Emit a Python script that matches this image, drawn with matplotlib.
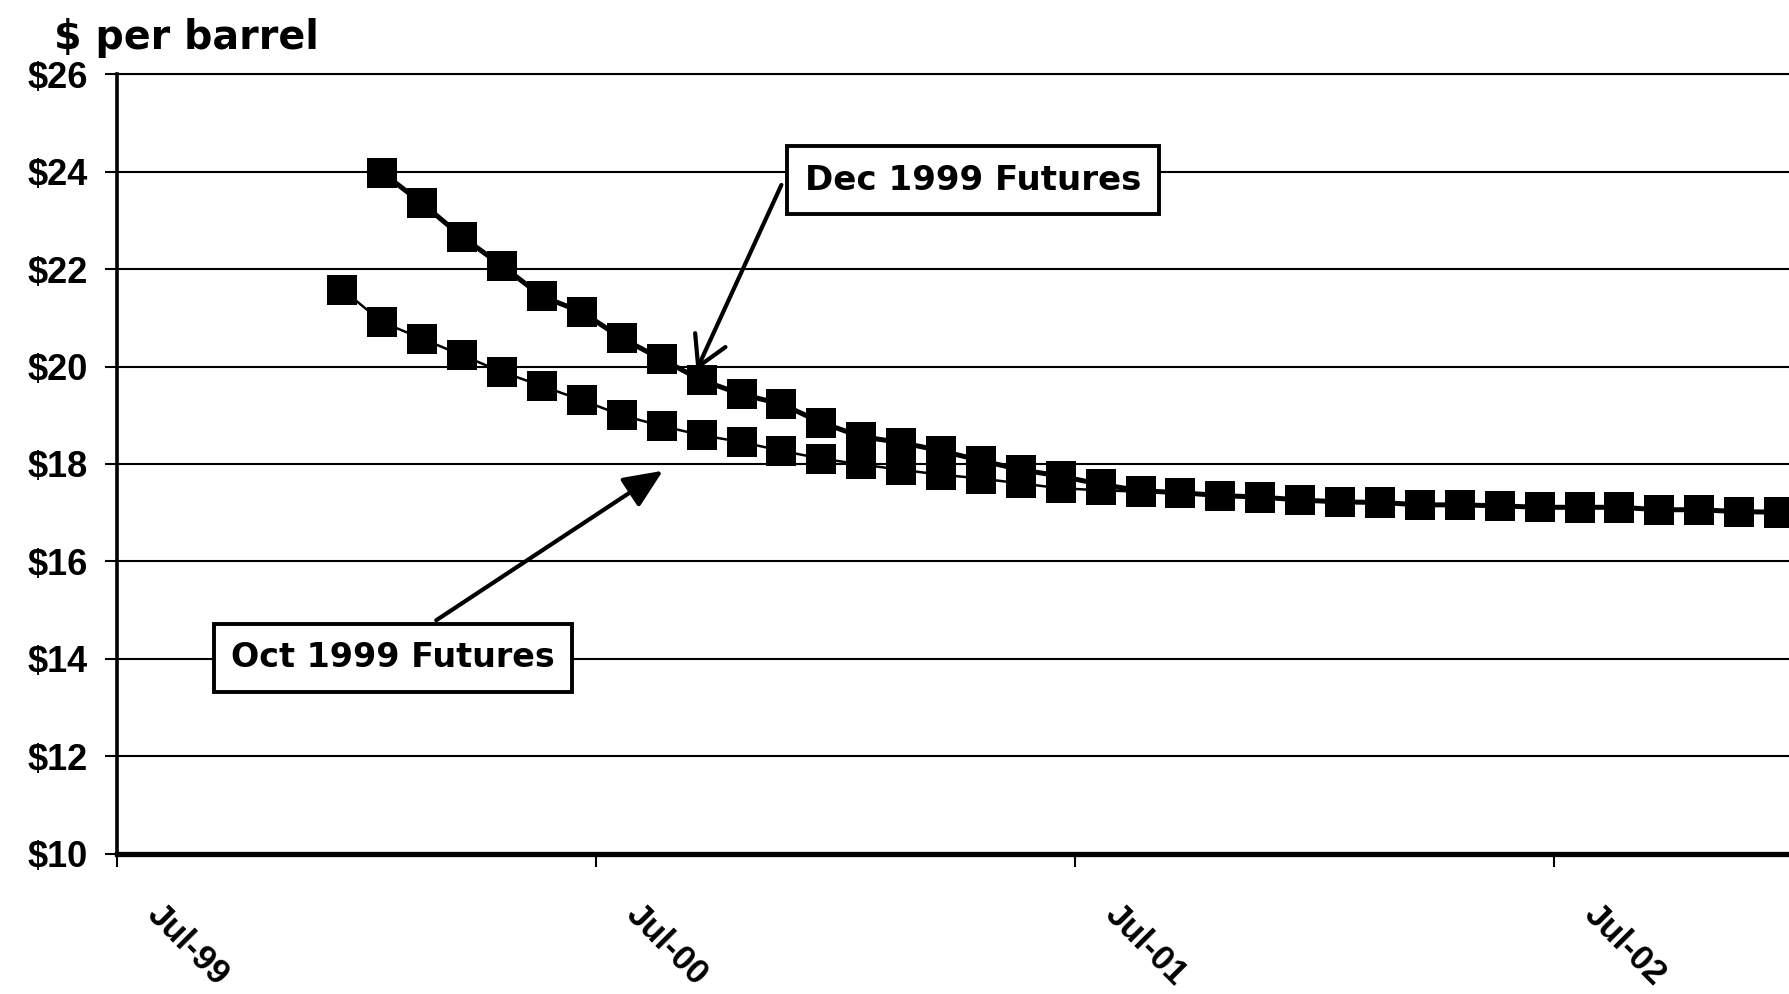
import numpy as np
import matplotlib
matplotlib.use("Agg")
import matplotlib.pyplot as plt
import matplotlib.transforms as mtransforms

# Futures strip prices, $ per barrel, one point per contract month
# x = months after Jul-99 of the first contract shown
oct_start = 5.65
dec_start = 6.65
oct_prices = [21.58, 20.91, 20.57, 20.23, 19.89, 19.60, 19.31, 19.00, 18.78, 18.59,
              18.45, 18.27, 18.11, 17.99, 17.88, 17.78, 17.70, 17.60, 17.50, 17.46,
              17.43, 17.40, 17.35, 17.31, 17.25, 17.21, 17.20, 17.16, 17.15, 17.13,
              17.11, 17.10, 17.10, 17.06, 17.05, 17.02, 17.00]
dec_prices = [23.98, 23.35, 22.66, 22.07, 21.44, 21.12, 20.58, 20.15, 19.72, 19.43,
              19.23, 18.85, 18.56, 18.44, 18.27, 18.07, 17.88, 17.75, 17.58, 17.45,
              17.41, 17.35, 17.32, 17.26, 17.22, 17.21, 17.16, 17.16, 17.14, 17.11,
              17.11, 17.11, 17.06, 17.06, 17.02, 17.01]

xtick_pos = [0, 12, 24, 36]
xtick_labels = ["Jul-99", "Jul-00", "Jul-01", "Jul-02"]
ytick_pos = [10, 12, 14, 16, 18, 20, 22, 24, 26]
ytick_labels = ["$10", "$12", "$14", "$16", "$18", "$20", "$22", "$24", "$26"]

oct_x = oct_start + np.arange(len(oct_prices))
dec_x = dec_start + np.arange(len(dec_prices))

fig = plt.figure(figsize=(17.89, 9.94), dpi=100)
ax = fig.add_axes([0.0654, 0.1413, 0.9346, 0.7839])

ax.set_xlim(0, 41.9)
ax.set_ylim(10, 26)

# grid lines
ax.set_yticks(ytick_pos)
ax.set_yticklabels(ytick_labels)
ax.yaxis.grid(True, color="black", linewidth=1.5)
ax.set_axisbelow(True)

ax.plot(oct_x, oct_prices, color="black", linewidth=1.8, marker="s",
        markersize=21, markeredgewidth=0, zorder=3)
ax.plot(dec_x, dec_prices, color="black", linewidth=3.6, marker="s",
        markersize=21, markeredgewidth=0, zorder=4)

# spines
ax.spines["right"].set_visible(False)
ax.spines["top"].set_linewidth(1.5)
ax.spines["left"].set_linewidth(2.6)
ax.spines["bottom"].set_linewidth(3.8)

ax.tick_params(axis="y", length=9, width=1.5, pad=12)
for lab in ax.get_yticklabels():
    lab.set_fontfamily("Liberation Sans")
    lab.set_fontweight("bold")
    lab.set_fontsize(26)

ax.set_xticks(xtick_pos)
ax.set_xticklabels(xtick_labels, rotation=-45, ha="left", va="top",
                   rotation_mode="anchor")
ax.tick_params(axis="x", length=9, width=1.5, pad=23)
offset = mtransforms.ScaledTranslation(0.47, 0, fig.dpi_scale_trans)
for lab in ax.get_xticklabels():
    lab.set_fontfamily("Liberation Sans")
    lab.set_fontweight("bold")
    lab.set_fontsize(25)
    lab.set_transform(lab.get_transform() + offset)

# labels and arrows
box = dict(boxstyle="square,pad=0.52", facecolor="white", edgecolor="black", linewidth=2.8)
ax.text(21.45, 23.83, "Dec 1999 Futures", fontsize=24.5, fontweight="bold",
        family="DejaVu Sans", ha="center", va="center", bbox=box, zorder=6)
ax.annotate("", xy=(14.52, 19.92), xytext=(16.65, 23.73),
            arrowprops=dict(arrowstyle="->,head_length=0.7,head_width=0.4",
                            color="black", lw=3, mutation_scale=30, shrinkA=0, shrinkB=0),
            zorder=7)

ax.text(6.91, 14.02, "Oct 1999 Futures", fontsize=24, fontweight="bold",
        family="DejaVu Sans", ha="center", va="center", bbox=box, zorder=6)
ax.annotate("", xy=(13.68, 17.86), xytext=(8.0, 14.79),
            arrowprops=dict(arrowstyle="-|>,head_length=0.8,head_width=0.35",
                            color="black", lw=3, mutation_scale=30, shrinkA=0, shrinkB=0),
            zorder=7)

fig.text(0.030, 0.951, "$ per barrel", fontsize=28.5, fontweight="bold",
         family="DejaVu Sans", va="baseline", ha="left")

fig.savefig("out.png", dpi=100, facecolor="white")
